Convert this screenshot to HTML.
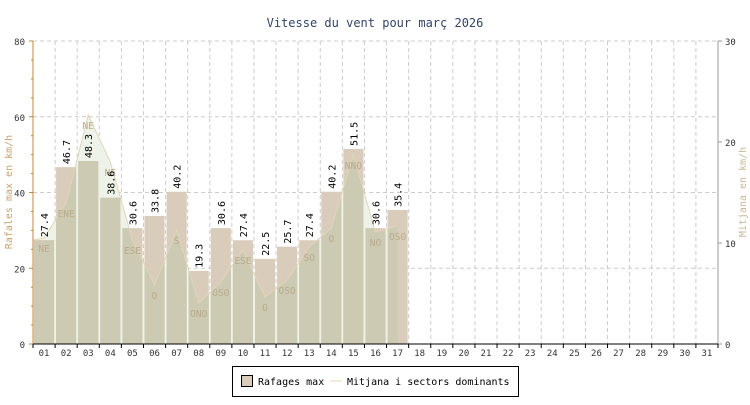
<!DOCTYPE html>
<html><head><meta charset="utf-8"><style>
body{margin:0;background:#fff;width:750px;height:400px;overflow:hidden}
svg text{font-family:"DejaVu Sans Mono","Liberation Mono",monospace}
</style></head><body>
<svg id="s" width="750" height="400" xmlns="http://www.w3.org/2000/svg"></svg>
<script>
const s=document.getElementById('s');
let h='';
const X0=33,X1=718,Y0=344,Y1=41,W=(X1-X0)/31,k=(Y0-Y1)/80;
h+=`<text x="375" y="27" text-anchor="middle" font-size="12" fill="#334466">Vitesse du vent pour març 2026</text>`;
for(let v=20;v<=80;v+=20){const y=Y0-v*k;h+=`<line x1="${X0}" x2="${X1}" y1="${y}" y2="${y}" stroke="#ccc" stroke-dasharray="4,3"/>`;}
for(let i=1;i<=31;i++){const x=X0+W*i;h+=`<line x1="${x}" x2="${x}" y1="${Y1}" y2="${Y0}" stroke="#ccc" stroke-dasharray="4,3"/>`;}
const vals=[27.4,46.7,48.3,38.6,30.6,33.8,40.2,19.3,30.6,27.4,22.5,25.7,27.4,40.2,51.5,30.6,35.4];
const ly=[238,203,115,162,240,285,230,303,282,250,297,280,247,228,155,232,226];
const dirs=['NE','ENE','NE','NE','ESE','O','S','ONO','OSO','ESE','O','OSO','SO','O','NNO','NO','OSO'];
let pts=`${X0},${Y0} ${X0},${ly[0]+2} `;
ly.forEach((y,i)=>{pts+=`${X0+W*(i+0.5)},${y} `});
pts+=`${X0+W*16.5},${Y0}`;
h+=`<polygon points="${pts}" fill="#eef3e9"/>`;
let clip='';
vals.forEach((v,i)=>{const x=X0+W*i+1,y=Y0-v*k;const r=`<rect x="${x}" y="${y}" width="${W-2}" height="${v*k}"/>`;clip+=r;h+=r.replace('<rect','<rect fill="#d9ccbb"');});
h+=`<clipPath id="c">${clip}</clipPath><polygon points="${pts}" fill="#cccab3" clip-path="url(#c)"/>`;
let lp='';ly.forEach((y,i)=>{lp+=`${X0+W*(i+0.5)},${y} `});
h+=`<polyline points="${X0},${ly[0]+2} ${lp}" fill="none" stroke="#e0d6b8" stroke-width="1"/>`;
ly.forEach((y,i)=>{h+=`<text x="${X0+W*(i+0.5)}" y="${y+14}" text-anchor="middle" font-size="9.5" fill="#b9ab8c">${dirs[i]}</text>`});
vals.forEach((v,i)=>{const x=X0+W*(i+0.5)+4,y=Y0-v*k-3;h+=`<text transform="translate(${x},${y}) rotate(-90)" font-size="10" fill="#000">${v.toFixed(1)}</text>`});
h+=`<line x1="${X0}" x2="${X0}" y1="${Y1}" y2="${Y0}" stroke="#c08840"/>`;
for(let v=0;v<=80;v+=5){const y=Y0-v*k;h+=`<line x1="${X0-(v%20?2:4)}" x2="${X0}" y1="${y}" y2="${y}" stroke="#c08840"/>`;}
for(let v=0;v<=80;v+=20){h+=`<text x="25" y="${Y0-v*k+4}" text-anchor="end" font-size="9" fill="#333">${v}</text>`;}
h+=`<line x1="${X1}" x2="${X1}" y1="${Y1}" y2="${Y0}" stroke="#999"/>`;
for(let v=0;v<=30;v+=10){const y=Y0-v*(Y0-Y1)/30;h+=`<line x1="${X1}" x2="${X1+4}" y1="${y}" y2="${y}" stroke="#999"/><text x="725" y="${y+4}" font-size="9" fill="#333">${v}</text>`;}
h+=`<line x1="${X0}" x2="${X1}" y1="${Y0}" y2="${Y0}" stroke="#000"/>`;
for(let i=0;i<=31;i++){const x=X0+W*i;h+=`<line x1="${x}" x2="${x}" y1="${Y0}" y2="${Y0+4}" stroke="#000"/>`;}
for(let i=1;i<=31;i++){h+=`<text x="${X0+W*(i-0.5)}" y="356" text-anchor="middle" font-size="9" fill="#333">${String(i).padStart(2,'0')}</text>`;}
h+=`<text transform="translate(12,192) rotate(-90)" text-anchor="middle" font-size="10" fill="#c8a070">Rafales max en km/h</text>`;
h+=`<text transform="translate(746,192) rotate(-90)" text-anchor="middle" font-size="10" fill="#c8b898">Mitjana en km/h</text>`;
h+=`<rect x="232.5" y="366.5" width="286" height="30" fill="#fff" stroke="#000"/>`;
h+=`<rect x="241.5" y="375.5" width="11" height="11" fill="#d9ccbb" stroke="#000"/>`;
h+=`<text x="258" y="385" font-size="10" fill="#000">Rafages max</text>`;
h+=`<line x1="330" x2="342" y1="381" y2="381" stroke="#eee6cc" stroke-width="1.5"/>`;
h+=`<text x="347" y="385" font-size="10" fill="#000">Mitjana i sectors dominants</text>`;
s.innerHTML=h;
</script>
</body></html>
